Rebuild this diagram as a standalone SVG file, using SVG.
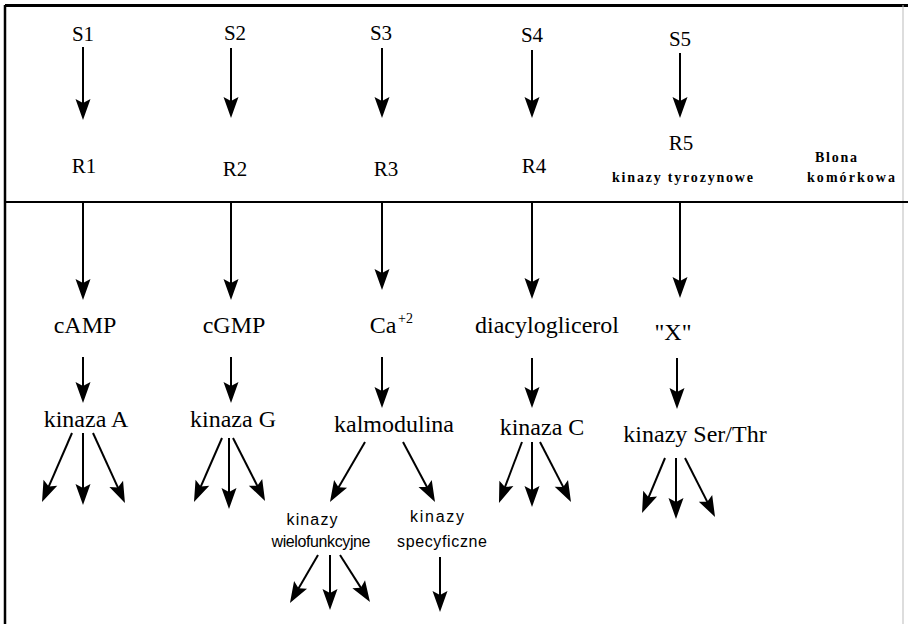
<svg xmlns="http://www.w3.org/2000/svg" width="908" height="624" viewBox="0 0 908 624">
<style>
.s{font-family:"Liberation Serif","Times New Roman",serif;font-size:21px;fill:#000;text-anchor:middle}
.m{font-family:"Liberation Serif","Times New Roman",serif;font-size:24px;fill:#000;text-anchor:middle}
.sup{font-family:"Liberation Serif","Times New Roman",serif;font-size:14px;fill:#000}
.b{font-family:"Liberation Serif","Times New Roman",serif;font-size:14px;font-weight:bold;fill:#000}
.k{font-family:"Liberation Sans",Arial,sans-serif;font-size:16px;fill:#000;text-anchor:middle}
.c line{stroke:#000;stroke-width:2;marker-end:url(#ah)}
.frame{stroke:#000;fill:none}
</style>
<defs>
<marker id="ah" markerUnits="userSpaceOnUse" markerWidth="24" markerHeight="16" refX="11" refY="7.5" orient="auto" overflow="visible">
<path d="M0,0 L21,7.5 L0,15 L4,7.5 Z" fill="#000"/>
</marker>
</defs>
<rect x="0" y="0" width="908" height="624" fill="#fff"/>
<g id="frame">
<line class="frame" x1="5" y1="5.5" x2="908" y2="5.5" stroke-width="3"/>
<line class="frame" x1="5" y1="5" x2="5" y2="624" stroke-width="2.5"/>
<line x1="903" y1="5" x2="903" y2="624" stroke="#bbb" stroke-width="1"/>
<line class="frame" x1="5" y1="202" x2="908" y2="202" stroke-width="2"/>
</g>
<g id="S1"><text class="s" x="83" y="41">S1</text></g>
<g id="S2"><text class="s" x="235" y="40">S2</text></g>
<g id="S3"><text class="s" x="381" y="40">S3</text></g>
<g id="S4"><text class="s" x="532" y="42">S4</text></g>
<g id="S5"><text class="s" x="680" y="46">S5</text></g>
<g id="R1"><text class="s" x="84" y="173">R1</text></g>
<g id="R2"><text class="s" x="235" y="176">R2</text></g>
<g id="R3"><text class="s" x="386" y="176">R3</text></g>
<g id="R4"><text class="s" x="534" y="173">R4</text></g>
<g id="R5"><text class="s" x="681" y="150">R5</text><text class="b" x="612" y="182" textLength="141" lengthAdjust="spacing">kinazy tyrozynowe</text></g>
<g id="blona"><text class="b" x="815" y="162" textLength="42" lengthAdjust="spacing">Blona</text><text class="b" x="807" y="182" textLength="88" lengthAdjust="spacing">komórkowa</text></g>
<g id="cAMP"><text class="m" x="85" y="333">cAMP</text></g>
<g id="cGMP"><text class="m" x="234" y="333">cGMP</text></g>
<g id="Ca"><text class="m" x="383" y="333">Ca</text><text class="sup" x="398" y="323">+2</text></g>
<g id="DAG"><text class="m" x="547" y="333">diacyloglicerol</text></g>
<g id="X"><text class="m" x="673" y="340">"X"</text></g>
<g id="kinazaA"><text class="m" x="86" y="427">kinaza A</text></g>
<g id="kinazaG"><text class="m" x="233" y="427">kinaza G</text></g>
<g id="kalmodulina"><text class="m" x="394" y="432">kalmodulina</text></g>
<g id="kinazaC"><text class="m" x="542" y="435">kinaza C</text></g>
<g id="kinazySerThr"><text class="m" x="695" y="442">kinazy Ser/Thr</text></g>
<g id="wielofunkcyjne"><text class="k" x="312" y="525" textLength="51" lengthAdjust="spacing">kinazy</text><text class="k" x="321" y="547" textLength="99" lengthAdjust="spacing">wielofunkcyjne</text></g>
<g id="specyficzne"><text class="k" x="437" y="522" textLength="54" lengthAdjust="spacing">kinazy</text><text class="k" x="442" y="547" textLength="90" lengthAdjust="spacing">specyficzne</text></g>
<g id="connectors" class="c">
<line x1="83" y1="47" x2="83" y2="110"/>
<line x1="231" y1="48" x2="231" y2="108"/>
<line x1="382" y1="48" x2="382" y2="108"/>
<line x1="532" y1="50" x2="532" y2="108"/>
<line x1="680" y1="53" x2="680" y2="108"/>
<line x1="83" y1="202" x2="83" y2="290"/>
<line x1="231" y1="202" x2="231" y2="290"/>
<line x1="382" y1="202" x2="382" y2="280"/>
<line x1="532" y1="202" x2="532" y2="289"/>
<line x1="680" y1="202" x2="680" y2="288"/>
<line x1="83" y1="357" x2="83" y2="393"/>
<line x1="231" y1="357" x2="231" y2="393"/>
<line x1="382" y1="357" x2="382" y2="398"/>
<line x1="532" y1="358" x2="532" y2="398"/>
<line x1="677" y1="358" x2="677" y2="399"/>
<line x1="72" y1="433" x2="46" y2="492.8"/>
<line x1="83" y1="433" x2="83" y2="495"/>
<line x1="93" y1="433" x2="120.8" y2="493.9"/>
<line x1="222" y1="438" x2="198" y2="492.8"/>
<line x1="229" y1="438" x2="229" y2="499"/>
<line x1="233" y1="438" x2="260.5" y2="492.1"/>
<line x1="365" y1="442" x2="335" y2="493.4"/>
<line x1="403" y1="442" x2="430.3" y2="493.2"/>
<line x1="318" y1="555" x2="295" y2="594.4"/>
<line x1="330" y1="555" x2="330" y2="600"/>
<line x1="340" y1="555" x2="364.6" y2="593.6"/>
<line x1="440" y1="557" x2="440" y2="602"/>
<line x1="522" y1="442" x2="502.5" y2="493.6"/>
<line x1="532" y1="442" x2="532" y2="497"/>
<line x1="540" y1="442" x2="566.4" y2="493.1"/>
<line x1="665" y1="458" x2="645.9" y2="503.8"/>
<line x1="676" y1="458" x2="676" y2="509"/>
<line x1="685" y1="458" x2="710.5" y2="508.1"/>
</g>
</svg>
